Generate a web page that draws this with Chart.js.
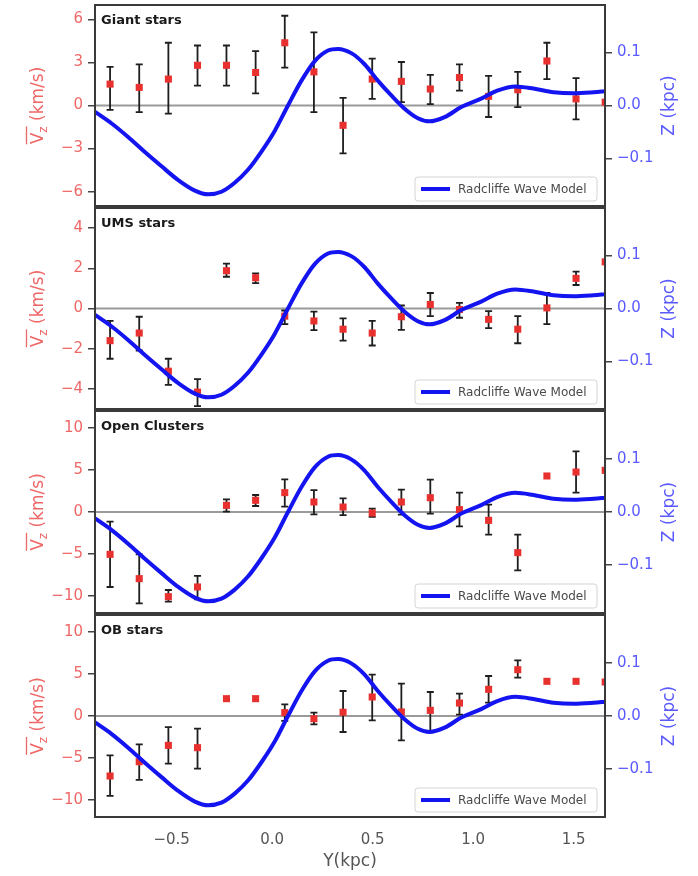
<!DOCTYPE html>
<html>
<head>
<meta charset="utf-8">
<script src="https://cdn.jsdelivr.net/npm/chart.js@4.4.1/dist/chart.umd.min.js"></script>
<style>
  html, body { margin: 0; padding: 0; background: #fff; }
  body { width: 698px; height: 876px; position: relative; overflow: hidden; }
  canvas { position: absolute; left: 0; }
</style>
</head>
<body>
<canvas id="p0" width="698" height="211" style="top:0px"></canvas>
<canvas id="p1" width="698" height="211" style="top:203px"></canvas>
<canvas id="p2" width="698" height="212" style="top:406px"></canvas>
<canvas id="p3" width="698" height="266" style="top:610px"></canvas>
<script>
// bin centres along Y (kpc), shared by every panel
const yBins = [-0.806, -0.661, -0.516, -0.371, -0.227, -0.082, 0.063, 0.208, 0.353,
               0.498, 0.643, 0.787, 0.932, 1.077, 1.222, 1.367, 1.512, 1.657];

// mean Vz and the ends of the error bars (null = no bar visible)
const giantV  = [1.49, 1.26, 1.84, 2.80, 2.80, 2.30, 4.37, 2.34, -1.38, 1.84, 1.68, 1.15, 1.95, 0.64, 1.10, 3.10, 0.46, 0.23];
const giantLo = [-0.30, -0.46, -0.57, 1.38, 1.38, 0.85, 2.64, -0.46, -3.33, 0.46, 0.23, 0.09, 1.03, -0.80, -0.11, 1.84, -0.97, null];
const giantHi = [2.69, 2.87, 4.37, 4.18, 4.18, 3.79, 6.25, 5.10, 0.53, 3.26, 3.03, 2.14, 2.87, 2.07, 2.34, 4.37, 1.91, null];

const umsV  = [-1.60, -1.22, -3.12, -4.16, 1.88, 1.53, -0.38, -0.62, -1.03, -1.22, -0.41, 0.20, -0.05, -0.54, -1.03, 0.03, 1.50, 2.32];
const umsLo = [-2.50, -2.09, -3.80, -4.86, 1.58, 1.26, -0.78, -1.08, -1.60, -1.84, -1.06, -0.38, -0.46, -0.98, -1.73, -0.78, 1.17, null];
const umsHi = [-0.62, -0.41, -2.50, -3.51, 2.23, 1.75, -0.10, -0.16, -0.49, -0.62, 0.15, 0.77, 0.28, -0.13, -0.38, 0.77, 1.83, null];

const openV  = [-5.03, -7.92, -10.06, -8.91, 0.79, 1.39, 2.30, 1.19, 0.59, -0.12, 1.19, 1.70, 0.28, -0.99, -4.83, 4.28, 4.75, 4.95];
const openLo = [-8.91, -10.85, -10.65, -10.38, 0.04, 0.71, 0.63, -0.28, -0.36, -0.59, -0.32, -0.20, -1.70, -2.69, -6.93, null, 2.30, null];
const openHi = [-1.15, -5.03, -9.27, -7.60, 1.50, 2.02, 3.88, 2.61, 1.62, 0.40, 2.65, 3.84, 2.30, 0.87, -2.69, null, 7.21, null];

const obV  = [-7.13, -5.43, -3.49, -3.76, 2.06, 2.06, 0.40, -0.32, 0.45, 2.26, 0.48, 0.67, 1.54, 3.17, 5.50, 4.12, 4.12, 4.04];
const obLo = [-9.50, -7.60, -5.66, -6.26, null, null, -0.59, -0.99, -1.90, -0.51, -2.89, -1.78, 0.16, 1.58, 4.55, null, null, null];
const obHi = [-4.67, -3.37, -1.31, -1.50, null, null, 1.39, 0.40, 2.97, 4.91, 3.84, 2.85, 2.65, 4.75, 6.61, null, null, null];

// Radcliffe wave model
const waveY = [-0.881, -0.798, -0.715, -0.633, -0.550, -0.467, -0.384, -0.318, -0.252, -0.186, -0.119, -0.053, 0.013, 0.079,
               0.146, 0.212, 0.278, 0.328, 0.394, 0.460, 0.526, 0.593, 0.659, 0.725, 0.783, 0.858, 0.941,
               1.04, 1.12, 1.21, 1.30, 1.40, 1.50, 1.60, 1.66];
const waveZ = [-0.012, -0.034, -0.060, -0.088, -0.115, -0.141, -0.161, -0.168, -0.163, -0.146, -0.121, -0.087, -0.048, 0.000,
               0.047, 0.084, 0.104, 0.107, 0.099, 0.078, 0.047, 0.019, -0.006, -0.024, -0.030, -0.022, -0.003,
               0.013, 0.028, 0.036, 0.032, 0.025, 0.023, 0.025, 0.027];

// tick labels
const giantTicks = [-6, -3, 0, 3, 6];
const umsTicks = [-4, -2, 0, 2, 4];
const clusterTicks = [-10, -5, 0, 5, 10];
const zTicks = [-0.1, 0, 0.1];
const xTicks = [-0.5, 0, 0.5, 1, 1.5];

const RED_T = '#ef6868', BLUE_T = '#5a5aff', BLUE = '#1414f0', PT = '#e8312f', FONT = '"DejaVu Sans", sans-serif';
const minus = s => s.replace('-', '\u2212');
Chart.defaults.font.family = FONT;

const PANELS = [
  {id: 'p0', title: 'Giant stars',   v: giantV, lo: giantLo, hi: giantHi, lim: 7,  ticks: giantTicks},
  {id: 'p1', title: 'UMS stars',     v: umsV,   lo: umsLo,   hi: umsHi,   lim: 5,  ticks: umsTicks},
  {id: 'p2', title: 'Open Clusters', v: openV,  lo: openLo,  hi: openHi,  lim: 12, ticks: clusterTicks},
  {id: 'p3', title: 'OB stars',      v: obV,    lo: obLo,    hi: obHi,    lim: 12, ticks: clusterTicks},
];

function rotText(ctx, parts, cx, cy) {
  // draws text rotated to read bottom-to-top; parts = [[text, font, dy, overline?]]
  ctx.save(); ctx.translate(cx, cy); ctx.rotate(-Math.PI / 2);
  ctx.textBaseline = 'alphabetic';
  let total = 0;
  parts.forEach(p => { ctx.font = p[1]; p.w = ctx.measureText(p[0]).width; total += p.w; });
  let x = -total / 2, ol = null;
  parts.forEach(p => {
    ctx.font = p[1]; ctx.fillText(p[0], x, 6 + p[2]);
    if (p[3]) { ol = ol || [x, x]; ol[1] = x + p.w; }
    x += p.w;
  });
  if (ol) { ctx.lineWidth = 1.3; ctx.beginPath(); ctx.moveTo(ol[0], -10.5); ctx.lineTo(ol[1], -10.5); ctx.stroke(); }
  ctx.restore();
}

function panelPlugin(P) {
  return {
    id: 'panel',
    beforeDatasetsDraw(chart) {
      const {ctx, chartArea: a, scales: {x, y}} = chart;
      ctx.save();
      ctx.beginPath(); ctx.rect(a.left, a.top, a.width, a.height); ctx.clip();
      const y0 = y.getPixelForValue(0);
      ctx.strokeStyle = '#9a9a9a'; ctx.lineWidth = 2;
      ctx.beginPath(); ctx.moveTo(a.left, y0); ctx.lineTo(a.right, y0); ctx.stroke();
      ctx.strokeStyle = '#1e1e1e'; ctx.lineWidth = 1.8;
      yBins.forEach((b, i) => {
        if (P.lo[i] == null) return;
        const px = x.getPixelForValue(b), y1 = y.getPixelForValue(P.lo[i]), y2 = y.getPixelForValue(P.hi[i]);
        ctx.beginPath();
        ctx.moveTo(px, y1); ctx.lineTo(px, y2);
        ctx.moveTo(px - 3.5, y1); ctx.lineTo(px + 3.5, y1);
        ctx.moveTo(px - 3.5, y2); ctx.lineTo(px + 3.5, y2);
        ctx.stroke();
      });
      ctx.restore();
    },
    afterDraw(chart) {
      const {ctx, chartArea: a} = chart;
      ctx.save();
      // frame
      ctx.strokeStyle = '#3a3a3a'; ctx.lineWidth = 2;
      ctx.strokeRect(a.left, a.top, a.width, a.height);
      // panel title
      ctx.fillStyle = '#1a1a1a'; ctx.font = 'bold 13px ' + FONT; ctx.textBaseline = 'middle';
      ctx.fillText(P.title, a.left + 6, a.top + 16);
      // legend
      const w = 182, h = 24, lx = a.right - 8 - w, ly = a.bottom - 5 - h;
      ctx.fillStyle = 'rgba(255,255,255,0.85)'; ctx.strokeStyle = '#d4d4d4'; ctx.lineWidth = 1;
      ctx.beginPath(); ctx.roundRect(lx, ly, w, h, 3); ctx.fill(); ctx.stroke();
      ctx.strokeStyle = BLUE; ctx.lineWidth = 4;
      ctx.beginPath(); ctx.moveTo(lx + 6, ly + h / 2); ctx.lineTo(lx + 35, ly + h / 2); ctx.stroke();
      ctx.fillStyle = '#4a4a4a'; ctx.font = '12px ' + FONT;
      ctx.fillText(chart.data.datasets[1].label, lx + 43, ly + h / 2 + 1);
      // axis titles
      const cy = (a.top + a.bottom) / 2;
      ctx.fillStyle = RED_T; ctx.strokeStyle = RED_T;
      rotText(ctx, [['V', '17px ' + FONT, 0, true], ['z', '12px ' + FONT, 4, true], [' (km/s)', '17px ' + FONT, 0, false]], 37, cy);
      ctx.fillStyle = BLUE_T;
      rotText(ctx, [['Z (kpc)', '17px ' + FONT, 0, false]], 668, cy);
      ctx.restore();
    }
  };
}

PANELS.forEach((P, k) => {
  const last = k === PANELS.length - 1;
  new Chart(document.getElementById(P.id), {
    type: 'scatter',
    data: {
      datasets: [
        {label: P.title, data: yBins.map((b, i) => ({x: b, y: P.v[i]})), yAxisID: 'y',
         pointStyle: 'rect', pointRadius: 5, pointBackgroundColor: PT, pointBorderWidth: 0, clip: 0, order: 1},
        {type: 'line', label: 'Radcliffe Wave Model', data: waveY.map((b, i) => ({x: b, y: waveZ[i]})), yAxisID: 'z',
         borderColor: BLUE, borderWidth: 4, pointRadius: 0, fill: false, cubicInterpolationMode: 'monotone', clip: 0, order: 0}
      ]
    },
    options: {
      responsive: false, animation: false, devicePixelRatio: 1,
      layout: {padding: {top: 4, bottom: last ? 0 : 4, left: 0, right: 0}},
      plugins: {legend: {display: false}, tooltip: {enabled: false}},
      scales: {
        x: {
          type: 'linear', min: -0.881, max: 1.656, display: last,
          afterBuildTicks: s => { s.ticks = xTicks.map(v => ({value: v})); },
          afterFit: s => { s.height = last ? 59 : 0; s.paddingLeft = 0; s.paddingRight = 0; },
          ticks: {color: '#555', font: {size: 15}, padding: 14, maxRotation: 0, callback: v => minus(v.toFixed(1))},
          grid: {drawOnChartArea: false, drawTicks: false},
          border: {display: false},
          title: {display: true, text: 'Y(kpc)', color: '#555', font: {size: 17}, padding: {top: 0, bottom: 4}}
        },
        y: {
          position: 'left', min: -P.lim, max: P.lim,
          afterBuildTicks: s => { s.ticks = P.ticks.map(v => ({value: v})); },
          afterFit: s => { s.width = 95; s.paddingTop = 0; s.paddingBottom = 0; },
          ticks: {color: RED_T, font: {size: 15}, padding: 5, callback: v => minus(String(v))},
          grid: {drawOnChartArea: false, tickLength: 7, color: '#444', lineWidth: 1.5},
          border: {display: false}
        },
        z: {
          position: 'right', min: -0.19, max: 0.19,
          afterBuildTicks: s => { s.ticks = zTicks.map(v => ({value: v})); },
          afterFit: s => { s.width = 93; s.paddingTop = 0; s.paddingBottom = 0; },
          ticks: {color: BLUE_T, font: {size: 15}, padding: 5, callback: v => minus(v.toFixed(1))},
          grid: {drawOnChartArea: false, tickLength: 7, color: '#444', lineWidth: 1.5},
          border: {display: false}
        }
      }
    },
    plugins: [panelPlugin(P)]
  });
});
</script>
</body>
</html>
